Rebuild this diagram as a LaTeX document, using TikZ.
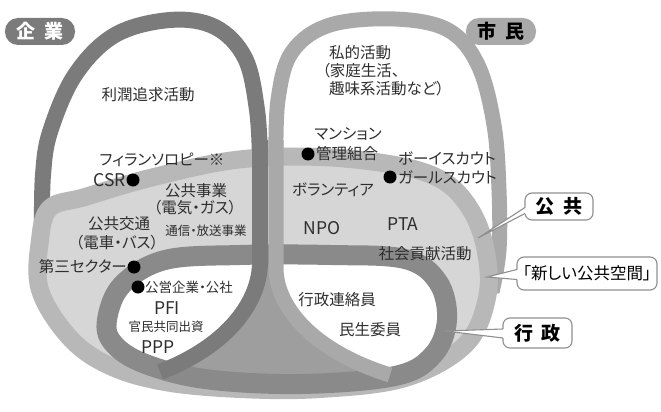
\documentclass[tikz,border=0pt]{standalone}
\usepackage{fontspec}
\setmainfont{Noto Sans CJK JP}[RawFeature=+palt]
\usetikzlibrary{calc}
\definecolor{kigyo}{HTML}{7B7B7B}
\definecolor{shimin}{HTML}{A9A9A9}
\definecolor{kband}{HTML}{B8B8B8}
\definecolor{kfill}{HTML}{D6D6D6}
\definecolor{gyosei}{HTML}{8A8A8A}
\definecolor{trunk}{HTML}{9E9E9E}
\definecolor{txt}{HTML}{2E2E2E}
\definecolor{tailgray}{HTML}{8F8F8F}
\begin{document}
\begin{tikzpicture}[x=1pt,y=-1pt,
  lbl/.style={inner sep=0pt, text=txt, font=\fontsize{15.5}{18}\selectfont},
  slbl/.style={lbl, font=\fontsize{12.5}{15}\selectfont},
  mlbl/.style={lbl, font=\fontsize{13.5}{16}\selectfont},
  ltn/.style={lbl, font=\fontsize{17.5}{20}\selectfont},
  dot/.style={circle, fill=black, minimum size=13pt, inner sep=0pt},
  pill/.style={rounded corners=13pt, minimum width=70pt, minimum height=27pt, inner sep=0pt, font=\bfseries\fontsize{19}{22}\selectfont},
  callout/.style={draw=tailgray, line width=1.1pt, fill=white, rounded corners=7pt, inner sep=0pt, text=black, font=\bfseries\fontsize{19}{22}\selectfont},
  tail/.style={draw=tailgray, line width=1.1pt}
]
\useasboundingbox (0,0) rectangle (661,412);
\fill[white] (0,0) rectangle (661,412);

% 企業 arch
\draw[kigyo, line width=16pt] plot[smooth, tension=0.6] coordinates {(42,225) (43,175) (50,132) (75,75) (115,35) (170,20) (215,27) (245,58) (257,110) (260,160)};
% 市民 arch
\draw[shimin, line width=15pt] plot[smooth, tension=0.6] coordinates {(276,160) (278,100) (292,52) (330,25) (395,19) (448,30) (478,65) (494,125) (499,190) (499,250) (492,292)};

% 公共 ellipse
\filldraw[draw=kband, fill=kfill, line width=18pt] plot[smooth cycle, tension=0.6] coordinates {(40,290) (40,240) (50,208) (85,197) (150,178) (235,160) (320,157) (400,166) (445,182) (472,212) (486,252) (487,298) (465,345) (405,378) (320,389) (240,389) (165,382) (110,366) (70,338)};

% 行政 interior
\fill[white] plot[smooth cycle, tension=0.6] coordinates {(107,320) (122,285) (165,260) (240,255) (330,255) (405,259) (438,282) (447,320) (433,355) (395,376) (300,384) (205,379) (143,363) (113,343)};
% trunk between the lobes
\fill[trunk] (260,255) -- (260,262) .. controls (260,300) and (230,345) .. (160,372) -- (250,385) -- (330,385) -- (390,375) .. controls (310,350) and (276,305) .. (276,268) -- (276,255) -- cycle;
% 行政 ring
\draw[gyosei, line width=20pt] plot[smooth cycle, tension=0.6] coordinates {(107,320) (122,285) (165,260) (240,255) (330,255) (405,259) (438,282) (447,320) (433,355) (395,376) (300,384) (205,379) (143,363) (113,343)};

% inner continuations of the two loops
\draw[kigyo, line width=16pt] (260,140) -- (260,262) .. controls (260,300) and (230,345) .. (160,372);
\draw[shimin, line width=15pt] (276,140) -- (276,268) .. controls (276,305) and (310,350) .. (390,375);

% texts
\node[lbl] (rijun) at (148,95) {利潤追求活動};
\node[lbl, align=left, anchor=north west, font=\fontsize{15.5}{18}\selectfont] (shiteki) at (329,45) {私的活動\\\kern-0.45em（家庭生活、\\趣味系活動など）};
\node[lbl] (mansion) at (348,134) {マンション};
\node[dot] (dmansion) at (308,154) {};
\node[lbl, anchor=west] (kanri) at (316,154) {管理組合};
\node[lbl, anchor=west] (boy) at (398,158) {ボーイスカウト};
\node[dot] (dgirl) at (390,177) {};
\node[lbl, anchor=west] (girl) at (398,177) {ガールスカウト};
\node[lbl] (volunteer) at (333,190) {ボランティア};
\node[ltn] (npo) at (322,228) {NPO};
\node[ltn] (pta) at (403,224) {PTA};
\node[lbl] (shakai) at (425,254) {社会貢献活動};
\node[lbl] (phil) at (162,160) {フィランソロピー※};
\node[ltn, anchor=east] (csr) at (126,180) {CSR};
\node[dot] (dcsr) at (133,180) {};
\node[lbl] (kokyojigyo) at (196,191) {公共事業};
\node[lbl] (denki) at (195,208) {（電気・ガス）};
\node[slbl] (tsushin) at (206,231) {通信・放送事業};
\node[lbl] (kotsu) at (119,224) {公共交通};
\node[lbl] (densha) at (117,243) {（電車・バス）};
\node[lbl, anchor=east] (daisan) at (127,267) {第三セクター};
\node[dot] (ddaisan) at (134,267) {};
\node[dot] (dkoei) at (138,287) {};
\node[mlbl, anchor=west] (koei) at (145,287) {公営企業・公社};
\node[ltn] (pfi) at (167,308) {PFI};
\node[slbl] (kanmin) at (166,327) {官民共同出資};
\node[ltn] (ppp) at (158,347) {PPP};
\node[lbl] (renraku) at (337,300) {行政連絡員};
\node[lbl] (minsei) at (370,330) {民生委員};

% labels
\node[pill, fill=kigyo, text=white] (kigyolbl) at (40,31.5) {企\hspace{0.45em}業};
\node[pill, fill=shimin, text=black] (shiminlbl) at (501,31.5) {市\hspace{0.45em}民};
\node[callout, minimum width=68pt, minimum height=27pt] (kokyolbl) at (559,206.5) {公\hspace{0.45em}共};
\node[callout, minimum width=140pt, minimum height=33pt, font=\fontsize{16.5}{20}\selectfont] (shinlbl) at (587,273.5) {「新しい公共空間」};
\node[callout, minimum width=69pt, minimum height=30pt] (gyoseilbl) at (537.5,333) {行\hspace{0.45em}政};

% tails
\coordinate (kokyotip) at (478,238);
\fill[white] (kokyotip) -- ($(kokyolbl.west)+(0,1)$) -- ++(3,0) -- ($(kokyolbl.west)+(3,7)$) -- ($(kokyolbl.west)+(0,7)$) -- cycle;
\draw[tail] ($(kokyolbl.west)+(0.5,1)$) -- (kokyotip) -- ($(kokyolbl.west)+(0.5,7)$);

\coordinate (shintip) at (487,277);
\fill[white] (shintip) -- ($(shinlbl.west)+(0,-4)$) -- ++(3,0) -- ($(shinlbl.west)+(3,6)$) -- ($(shinlbl.west)+(0,6)$) -- cycle;
\draw[tail] ($(shinlbl.west)+(0.5,-4)$) -- (shintip) -- ($(shinlbl.west)+(0.5,6)$);

\coordinate (gyoseitip) at (445,331);
\fill[white] (gyoseitip) -- ($(gyoseilbl.west)+(0,-4)$) -- ++(3,0) -- ($(gyoseilbl.west)+(3,5)$) -- ($(gyoseilbl.west)+(0,5)$) -- cycle;
\draw[tail] ($(gyoseilbl.west)+(0.5,-4)$) -- (gyoseitip) -- ($(gyoseilbl.west)+(0.5,5)$);
\end{tikzpicture}
\end{document}
